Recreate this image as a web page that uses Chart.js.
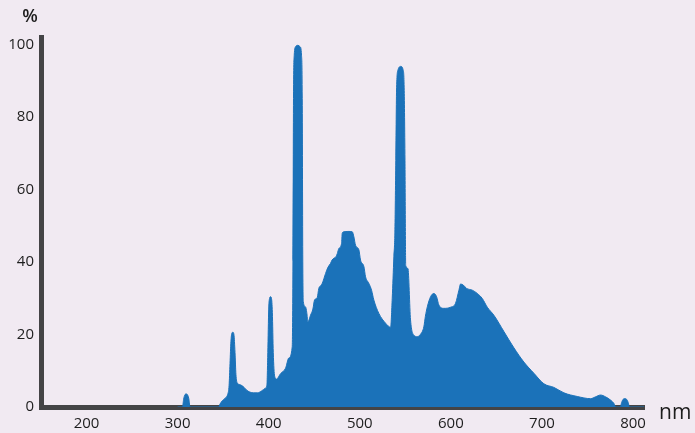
<!DOCTYPE html>
<html>
<head>
<meta charset="utf-8">
<script src="https://cdn.jsdelivr.net/npm/chart.js@4.4.1/dist/chart.umd.min.js"></script>
<style>
  html, body { margin: 0; padding: 0; background: #f1eaf2; }
  #wrap { width: 695px; height: 433px; position: relative; }
</style>
</head>
<body>
<div id="wrap"><canvas id="c" width="695" height="433"></canvas></div>
<script>
// Wavelength (nm) of each sample
const wavelengths = [
  300, 305.4, 306.5, 308, 309.5, 311, 312.5, 313.5,
  345, 346.5, 349, 352.5, 355, 356.5, 357.5, 358.5, 359.5, 360.6, 361.8, 363, 364, 365.5,
  368, 370.5, 373, 376, 378.5, 383, 387.5, 392, 396.5, 398, 399, 400, 401, 402, 403, 404, 405, 406.5,
  408.6, 413, 418.5, 422, 425.8, 426.6, 427.2, 428, 429.5, 432, 434.5, 436, 436.8, 437.4, 438,
  440.4, 441.8, 443, 445.9, 448.5, 450.3, 453.3, 455, 457, 458.8, 462.4, 465, 467.9, 469.5,
  471.5, 474, 475.3, 477, 480, 480.7, 482.5, 487, 491.7, 493.5, 495.3, 499, 500.8, 504.5,
  506.3, 509.9, 512.9, 515.4, 520.9, 528.3, 533.8, 535.6, 537.4, 538.5, 539.5, 540.4, 542,
  545.1, 547.5, 548.7, 549.6, 550.4, 552.8, 555.7, 559.4, 563.1, 566.5, 570.3, 572, 574.1,
  577.7, 581.3, 584.3, 586.8, 592.3, 599.6, 605.1, 608.8, 610.6, 613.6, 617.2, 623.5, 629,
  634.5, 640, 647.2, 658.2, 669.2, 680.1, 691.1, 702.1, 713.1, 724.1, 738.7, 753.4, 758.8,
  764.3, 769.8, 775.3, 778.9, 781, 786, 787.4, 789, 791, 793, 794.7, 796, 812
];
// Relative intensity (%)
const intensity = [
  0, 0, 2, 3.4, 3.6, 3.3, 2, 0,
  0, 0.8, 1.7, 2.5, 3.5, 6, 12, 18, 20.3, 20.6, 20, 15, 9, 6.6,
  6.2, 5.9, 5.4, 4.6, 4.2, 3.9, 3.9, 4.4, 5.2, 6, 15, 27, 30, 30.4, 30, 26, 15, 8.5,
  7.7, 9.2, 10.7, 13.5, 16.6, 40, 85, 97, 99.3, 99.7, 99.3, 97, 85, 40, 29,
  27.6, 26, 23.5, 25.3, 27, 29.5, 30.2, 32.7, 33.4, 34.1, 36.8, 38.5, 39.6, 40.5,
  41, 41.5, 42.3, 43.7, 45.1, 47.9, 48.3, 48.4, 48.3, 46.9, 44.6, 43.3, 40.5, 38.7,
  35.9, 34.1, 32.2, 29.5, 25.8, 23.1, 22, 30, 41.4, 48, 68, 88, 93,
  93.9, 93, 88, 68, 39, 38.2, 24, 19.8, 19.4, 20, 22.1, 25, 27.6,
  30.4, 31.3, 30.4, 28.1, 27.2, 27.5, 28.6, 32.2, 33.9, 33.6, 32.7, 32.2, 31.3,
  29.9, 27.5, 25.3, 20.8, 16.3, 12.4, 9.3, 6.4, 5.4, 3.9, 2.9, 2.3, 2.8,
  3.3, 2.8, 1.9, 1, 0, 0, 1.2, 2.1, 2.3, 2.1, 1.2, 0, 0
];
const xTickValues = [200, 300, 400, 500, 600, 700, 800];
const yTickValues = [0, 20, 40, 60, 80, 100];
const xUnit = 'nm';
const yUnit = '%';

const points = wavelengths.map((w, i) => ({ x: w, y: intensity[i] }));

const FONT = '"Open Sans", "DejaVu Sans", sans-serif';
const textColor = '#1d1d1d';
const axisColor = '#444446';
const fillColor = '#1b72b9';

const unitLabels = {
  id: 'unitLabels',
  afterDraw(chart) {
    const ctx = chart.ctx;
    ctx.save();
    ctx.fillStyle = textColor;
    ctx.textBaseline = 'middle';
    ctx.textAlign = 'center';
    ctx.font = '600 18px ' + FONT;
    ctx.fillText(yUnit, 30, 17);
    ctx.textAlign = 'left';
    ctx.font = '21px ' + FONT;
    ctx.fillText(xUnit, 659, 413);
    ctx.restore();
  }
};

new Chart(document.getElementById('c'), {
  type: 'line',
  data: {
    datasets: [{
      data: points,
      fill: 'origin',
      backgroundColor: fillColor,
      borderColor: fillColor,
      borderWidth: 1,
      pointRadius: 0,
      cubicInterpolationMode: 'monotone'
    }]
  },
  options: {
    responsive: false,
    animation: false,
    events: [],
    layout: { padding: { left: 0, right: 51, top: 37, bottom: 0 } },
    plugins: { legend: { display: false }, tooltip: { enabled: false } },
    scales: {
      x: {
        type: 'linear',
        min: 150,
        max: 812,
        z: 1,
        grid: { display: false, drawTicks: false },
        border: { display: true, color: axisColor, width: 5 },
        afterBuildTicks: s => { s.ticks = xTickValues.map(v => ({ value: v })); },
        afterFit: s => { s.height = 26; },
        ticks: { autoSkip: false, maxRotation: 0, padding: 8, color: textColor, font: { family: FONT, size: 15 } }
      },
      y: {
        type: 'linear',
        min: 0,
        max: 102,
        z: 1,
        grid: { display: false, drawTicks: false },
        border: { display: true, color: axisColor, width: 5 },
        afterBuildTicks: s => { s.ticks = yTickValues.map(v => ({ value: v })); },
        afterFit: s => { s.width = 41; },
        ticks: { autoSkip: false, padding: 7, color: textColor, font: { family: FONT, size: 15 } }
      }
    }
  },
  plugins: [unitLabels]
});
</script>
</body>
</html>
